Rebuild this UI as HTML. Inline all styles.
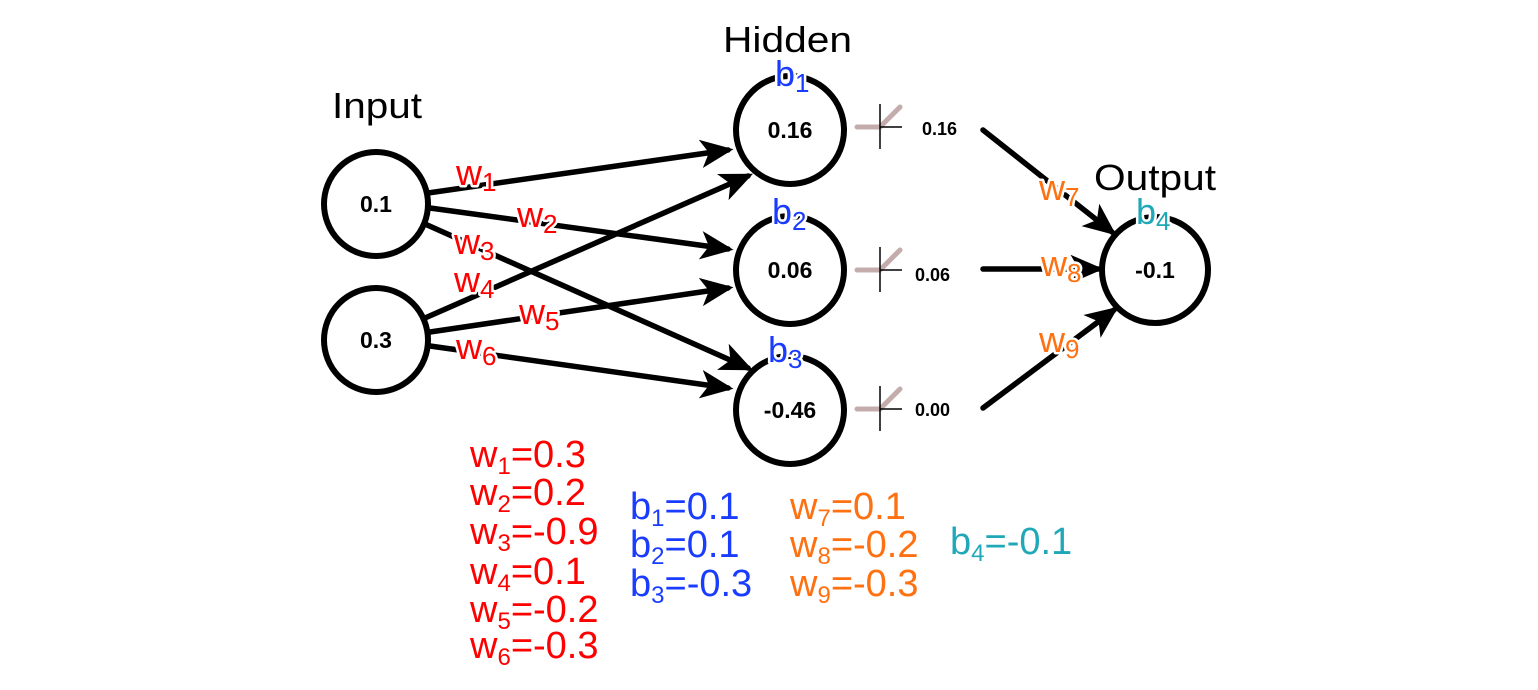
<!DOCTYPE html>
<html><head><meta charset="utf-8"><style>
html,body{margin:0;padding:0;background:#fff;}
svg{display:block;font-family:"Liberation Sans",sans-serif;}
.lbl{font-size:36px;paint-order:stroke;stroke:#fff;stroke-width:5px;stroke-linejoin:round;}
.sub{font-size:26px;}
.leg .sub{font-size:24px;}
.nv{font-size:23px;font-weight:bold;}
.leg{font-size:38px;}
</style></head><body>
<svg width="1538" height="690" viewBox="0 0 1538 690" xmlns="http://www.w3.org/2000/svg">
<defs>
<marker id="a" markerWidth="6" markerHeight="6" refX="5" refY="3" orient="auto" markerUnits="strokeWidth">
<path d="M0,0.4 L6,3 L0,5.6 L1.5,3 Z" fill="#000"/></marker>
</defs>
<g stroke="#000" stroke-width="5.5" fill="none" stroke-linecap="round">
<line x1="428" y1="193" x2="728" y2="150" marker-end="url(#a)"/>
<line x1="430" y1="208" x2="728" y2="249" marker-end="url(#a)"/>
<line x1="425" y1="224" x2="748" y2="368" marker-end="url(#a)"/>
<line x1="425" y1="318" x2="748" y2="176" marker-end="url(#a)"/>
<line x1="430" y1="332" x2="728" y2="288" marker-end="url(#a)"/>
<line x1="430" y1="346" x2="728" y2="388" marker-end="url(#a)"/>
<line x1="983" y1="130" x2="1112" y2="232" marker-end="url(#a)"/>
<line x1="983" y1="269" x2="1098" y2="269" marker-end="url(#a)"/>
<line x1="983" y1="408" x2="1114" y2="310" marker-end="url(#a)"/>
</g>
<g stroke="#000" stroke-width="6" fill="none">
<circle cx="376" cy="204" r="52"/>
<circle cx="376" cy="340" r="52"/>
<circle cx="790" cy="130" r="54"/>
<circle cx="790" cy="270" r="54"/>
<circle cx="790" cy="410" r="54"/>
<circle cx="1155" cy="270" r="53"/>
</g>
<g>
<g>
<path d="M857,127 H880 L900,107" stroke="#c4acac" stroke-width="5" fill="none" stroke-linecap="round"/>
<path d="M880,104 V149 M880,127 H902" stroke="#000" stroke-width="1.5"/>
</g>
<g transform="translate(0,143)">
<path d="M857,127 H880 L900,107" stroke="#c4acac" stroke-width="5" fill="none" stroke-linecap="round"/>
<path d="M880,104 V149 M880,127 H902" stroke="#000" stroke-width="1.5"/>
</g>
<g transform="translate(0,282)">
<path d="M857,127 H880 L900,107" stroke="#c4acac" stroke-width="5" fill="none" stroke-linecap="round"/>
<path d="M880,104 V149 M880,127 H902" stroke="#000" stroke-width="1.5"/>
</g>
</g>
<g font-size="18" font-weight="bold">
<text x="922" y="135">0.16</text>
<text x="915" y="281">0.06</text>
<text x="915" y="416">0.00</text>
</g>
<g font-size="36">
<text x="332" y="118" textLength="90" lengthAdjust="spacingAndGlyphs">Input</text>
<text x="723" y="52" textLength="129" lengthAdjust="spacingAndGlyphs">Hidden</text>
<text x="1094" y="190" textLength="122" lengthAdjust="spacingAndGlyphs">Output</text>
</g>
<g class="nv" text-anchor="middle">
<text x="376" y="212">0.1</text>
<text x="376" y="348">0.3</text>
<text x="790" y="138">0.16</text>
<text x="790" y="278">0.06</text>
<text x="790" y="418">-0.46</text>
<text x="1155" y="278">-0.1</text>
</g>
<g class="lbl" fill="#ff0000">
<text x="456" y="185">w<tspan class="sub" dy="6">1</tspan></text>
<text x="517" y="227">w<tspan class="sub" dy="6">2</tspan></text>
<text x="454" y="254">w<tspan class="sub" dy="6">3</tspan></text>
<text x="454" y="292">w<tspan class="sub" dy="6">4</tspan></text>
<text x="519" y="324">w<tspan class="sub" dy="6">5</tspan></text>
<text x="456" y="359">w<tspan class="sub" dy="6">6</tspan></text>
</g>
<g class="lbl" fill="#ff7010">
<text x="1039" y="200">w<tspan class="sub" dy="6">7</tspan></text>
<text x="1041" y="276">w<tspan class="sub" dy="6">8</tspan></text>
<text x="1039" y="352">w<tspan class="sub" dy="6">9</tspan></text>
</g>
<g class="lbl" fill="#1a3cff">
<text x="775" y="86">b<tspan class="sub" dy="6">1</tspan></text>
<text x="772" y="224">b<tspan class="sub" dy="6">2</tspan></text>
<text x="768" y="362">b<tspan class="sub" dy="6">3</tspan></text>
</g>
<g class="lbl" fill="#20a8b8">
<text x="1136" y="224">b<tspan class="sub" dy="6">4</tspan></text>
</g>
<g class="leg" fill="#ff0000">
<text x="470" y="467">w<tspan class="sub" dy="7">1</tspan><tspan dy="-7">=0.3</tspan></text>
<text x="470" y="505">w<tspan class="sub" dy="7">2</tspan><tspan dy="-7">=0.2</tspan></text>
<text x="470" y="544">w<tspan class="sub" dy="7">3</tspan><tspan dy="-7">=-0.9</tspan></text>
<text x="470" y="584">w<tspan class="sub" dy="7">4</tspan><tspan dy="-7">=0.1</tspan></text>
<text x="470" y="622">w<tspan class="sub" dy="7">5</tspan><tspan dy="-7">=-0.2</tspan></text>
<text x="470" y="658">w<tspan class="sub" dy="7">6</tspan><tspan dy="-7">=-0.3</tspan></text>
</g>
<g class="leg" fill="#1a3cff">
<text x="630" y="519">b<tspan class="sub" dy="7">1</tspan><tspan dy="-7">=0.1</tspan></text>
<text x="630" y="557">b<tspan class="sub" dy="7">2</tspan><tspan dy="-7">=0.1</tspan></text>
<text x="630" y="596">b<tspan class="sub" dy="7">3</tspan><tspan dy="-7">=-0.3</tspan></text>
</g>
<g class="leg" fill="#ff7010">
<text x="790" y="519">w<tspan class="sub" dy="7">7</tspan><tspan dy="-7">=0.1</tspan></text>
<text x="790" y="557">w<tspan class="sub" dy="7">8</tspan><tspan dy="-7">=-0.2</tspan></text>
<text x="790" y="596">w<tspan class="sub" dy="7">9</tspan><tspan dy="-7">=-0.3</tspan></text>
</g>
<g class="leg" fill="#20a8b8">
<text x="950" y="554">b<tspan class="sub" dy="7">4</tspan><tspan dy="-7">=-0.1</tspan></text>
</g>
</svg>
</body></html>
